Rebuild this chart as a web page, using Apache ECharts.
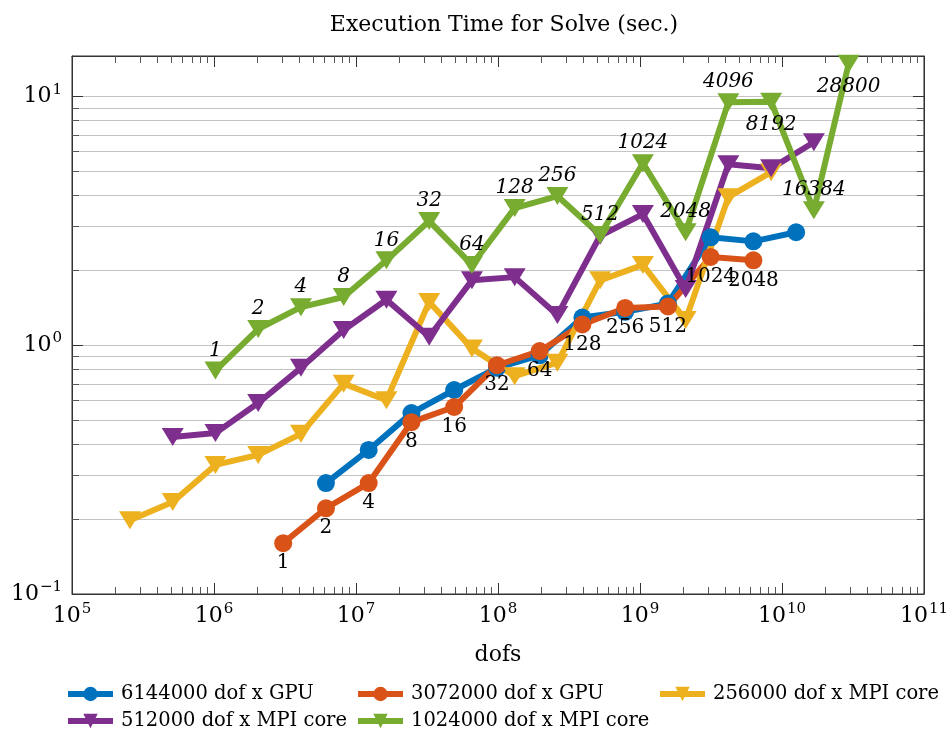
<!DOCTYPE html>
<html>
<head>
<meta charset="utf-8">
<script src="https://cdn.jsdelivr.net/npm/echarts@6/dist/echarts.min.js"></script>
<style>
html,body{margin:0;padding:0;background:#fff;}
#chart{width:951px;height:738px;}
</style>
</head>
<body>
<div id="chart"></div>
<script>
// ---- data ----
const seriesNames = ['6144000 dof x GPU','3072000 dof x GPU','256000 dof x MPI core','512000 dof x MPI core','1024000 dof x MPI core'];
const dofPerUnit = [6144000, 3072000, 256000, 512000, 1024000];
const gpuCounts = [1,2,4,8,16,32,64,128,256,512,1024,2048];
const mpiCounts = [1,2,4,8,16,32,64,128,256,512,1024,2048,4096,8192,16384,32768];
const greenCounts = [1,2,4,8,16,32,64,128,256,512,1024,2048,4096,8192,16384,28800];
const blueTimes   = [0.279,0.379,0.533,0.66,0.81,0.91,1.29,1.36,1.47,2.71,2.61,2.84];
const orangeTimes = [0.160,0.221,0.279,0.49,0.564,0.83,0.946,1.21,1.41,1.43,2.26,2.19];
const yellowTimes = [0.198,0.234,0.33,0.362,0.44,0.70,0.60,1.49,0.97,0.75,0.85,1.82,2.10,1.26,3.93,4.95];
const purpleTimes = [0.427,0.443,0.585,0.81,1.15,1.52,1.08,1.82,1.875,1.32,2.75,3.36,1.68,5.33,5.13,6.53];
const greenTimes  = [0.79,1.16,1.42,1.56,2.19,3.15,2.1,3.55,3.97,2.77,5.38,2.84,9.46,9.5,3.48,13.5];
const greenLabelsBelow = [8192, 28800];
const xDecades = [1e5,1e6,1e7,1e8,1e9,1e10];
const yDecades = [0.1,1,10];
const minorMultipliers = [2,3,4,5,6,7,8,9];
const colors = ['#0072BD','#D95319','#EDB120','#7E2F8E','#77AC30'];

const X_MIN = 1e5, X_MAX = 1e11, Y_MIN = 0.1, Y_MAX = 14.5;
const FONT = 'DejaVu Serif';

const xMinor = [];
xDecades.forEach(d => minorMultipliers.forEach(m => xMinor.push(d*m)));
const yMinor = [];
yDecades.forEach(d => minorMultipliers.forEach(m => { if (d*m < Y_MAX) yMinor.push(d*m); }));

function pts(dof, counts, times){ return counts.map((c,i)=>[dof*c, times[i]]); }

function supLabel(v){
  const e = Math.round(Math.log10(v));
  if (Math.abs(Math.log10(v) - e) > 1e-6) return '';
  return '{b|10}{s|' + (e < 0 ? '\u2212' + (-e) : e) + '}';
}
const richSup = {
  b:{fontFamily:FONT,fontSize:22,color:'#000',lineHeight:28},
  s:{fontFamily:FONT,fontSize:15,color:'#000',lineHeight:28,verticalAlign:'top',padding:[0,0,0,1]}
};

const chart = echarts.init(document.getElementById('chart'), null, {renderer:'canvas'});

const triSym = {symbol:'triangle', symbolSize:[22,18], symbolRotate:180};
const circSym = {symbol:'circle', symbolSize:18};
function lineSeries(i, sym, data, extra){
  return Object.assign({type:'line', z:5, name:seriesNames[i], data:data,
    itemStyle:{color:colors[i]}, lineStyle:{width:6, color:colors[i]}}, sym, extra || {});
}

const legendPos = [[65,684],[355,684],[657,684],[65,711],[355,711]];

const option = {
  animation:false,
  backgroundColor:'#fff',
  title:{text:'Execution Time for Solve (sec.)', left:499, top:9, textAlign:'center',
    textStyle:{fontFamily:FONT,fontSize:22,fontWeight:'normal',color:'#000'}},
  grid:{left:72,right:23,top:56,bottom:144,show:true,borderColor:'#333',borderWidth:1,containLabel:false},
  legend: seriesNames.map((n,i)=>({
    data:[n], left:legendPos[i][0], top:legendPos[i][1], padding:0,
    itemWidth:45, itemHeight:18, selectedMode:false,
    lineStyle:{width:6},
    textStyle:{fontFamily:FONT,fontSize:19.5,color:'#000',padding:[0,0,0,3]}
  })),
  xAxis:[
    {type:'log', logBase:10, min:X_MIN, max:X_MAX, position:'bottom',
     name:'dofs', nameLocation:'middle', nameGap:50,
     nameTextStyle:{fontFamily:FONT,fontSize:22,color:'#000'},
     axisLine:{show:true,lineStyle:{color:'#333',width:1}},
     axisTick:{show:true,inside:true,length:11,lineStyle:{color:'#333'}},
     axisLabel:{formatter:supLabel, rich:richSup, margin:8},
     splitLine:{show:false}},
    {type:'log', logBase:10, min:X_MIN, max:X_MAX, position:'top',
     axisLine:{show:true,lineStyle:{color:'#333',width:1}},
     axisTick:{show:true,inside:true,length:11,lineStyle:{color:'#333'}},
     axisLabel:{show:false}, splitLine:{show:false}}
  ],
  yAxis:[
    {type:'log', logBase:10, min:Y_MIN, max:Y_MAX, position:'left',
     axisLine:{show:true,lineStyle:{color:'#333',width:1}},
     axisTick:{show:true,inside:true,length:11,lineStyle:{color:'#333'}},
     axisLabel:{formatter:supLabel, rich:richSup, margin:10, showMaxLabel:false},
     splitLine:{show:true,lineStyle:{color:'#c4c4c4',width:1}}},
    {type:'log', logBase:10, min:Y_MIN, max:Y_MAX, position:'right',
     axisLine:{show:true,lineStyle:{color:'#333',width:1}},
     axisTick:{show:true,inside:true,length:11,lineStyle:{color:'#333'}},
     axisLabel:{show:false}, splitLine:{show:false}}
  ],
  series:[
    {type:'custom', silent:true, z:1, xAxisIndex:0, yAxisIndex:0,
     data: yMinor.map(v=>[1e6, v]),
     renderItem:function(params, api){
       const cs = params.coordSys;
       const y = Math.round(api.coord([1e6, api.value(1)])[1]) + 0.5;
       return {type:'group', children:[
         {type:'line', shape:{x1:cs.x,y1:y,x2:cs.x+cs.width,y2:y}, style:{stroke:'#c4c4c4',lineWidth:1}},
         {type:'line', shape:{x1:cs.x,y1:y,x2:cs.x+7,y2:y}, style:{stroke:'#555',lineWidth:1}},
         {type:'line', shape:{x1:cs.x+cs.width-7,y1:y,x2:cs.x+cs.width,y2:y}, style:{stroke:'#555',lineWidth:1}}
       ]};
     }},
    {type:'custom', silent:true, z:1, xAxisIndex:0, yAxisIndex:0,
     data: xMinor.map(v=>[v, 1]),
     renderItem:function(params, api){
       const cs = params.coordSys;
       const x = Math.round(api.coord([api.value(0), 1])[0]) + 0.5;
       return {type:'group', children:[
         {type:'line', shape:{x1:x,y1:cs.y+cs.height,x2:x,y2:cs.y+cs.height-7}, style:{stroke:'#555',lineWidth:1}},
         {type:'line', shape:{x1:x,y1:cs.y,x2:x,y2:cs.y+7}, style:{stroke:'#555',lineWidth:1}}
       ]};
     }},
    lineSeries(0, circSym, pts(dofPerUnit[0], gpuCounts, blueTimes)),
    lineSeries(1, circSym, pts(dofPerUnit[1], gpuCounts, orangeTimes), {
      label:{show:true, position:'bottom', distance:1, color:'#000', fontFamily:FONT, fontSize:20,
        formatter:p=>String(gpuCounts[p.dataIndex])}}),
    lineSeries(2, triSym, pts(dofPerUnit[2], mpiCounts, yellowTimes)),
    lineSeries(3, triSym, pts(dofPerUnit[3], mpiCounts, purpleTimes)),
    lineSeries(4, triSym, pts(dofPerUnit[4], greenCounts, greenTimes).map((d,i)=>(
      greenLabelsBelow.indexOf(greenCounts[i]) >= 0
        ? {value:d, label:{position:'bottom', distance:4}}
        : {value:d})), {
      label:{show:true, position:'top', distance:1, color:'#000', fontFamily:FONT, fontSize:20, fontStyle:'italic',
        formatter:p=>String(greenCounts[p.dataIndex])}})
  ]
};
chart.setOption(option);
</script>
</body>
</html>
